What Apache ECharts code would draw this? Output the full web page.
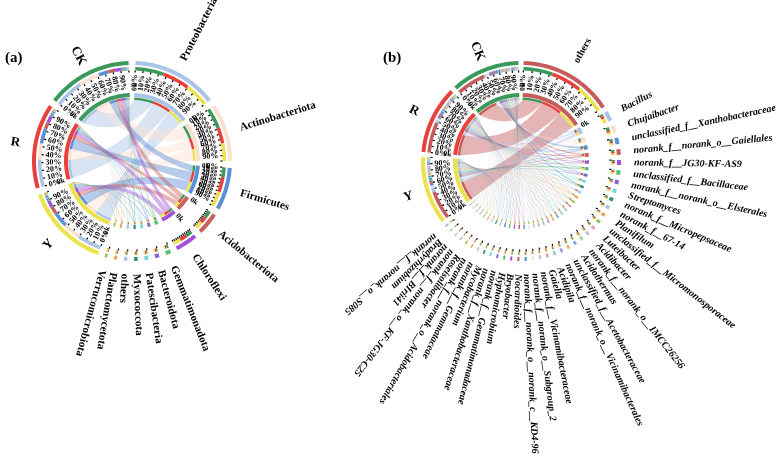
<!DOCTYPE html>
<html><head><meta charset="utf-8">
<script src="https://cdn.jsdelivr.net/npm/echarts@6/dist/echarts.min.js"></script>
<style>html,body{margin:0;padding:0;background:#fff}#c{width:780px;height:456px}</style>
</head><body><div id="c"></div>
<script>
// ---------------- data ----------------
const samples = ['CK', 'R', 'Y'];
const sampleColors = ['#3b9a5b', '#e8413c', '#ece24b'];
const pctLabels = ['0%', '10%', '20%', '30%', '40%', '50%', '60%', '70%', '80%', '90%'];
const countLabel = '0k';

// panel (a): phyla, relative abundance (%) per sample
const phylaA = ['Proteobacteria', 'Actinobacteriota', 'Firmicutes', 'Acidobacteriota', 'Chloroflexi',
  'Gemmatimonadota', 'Bacteroidota', 'Patescibacteria', 'Myxococcota', 'others', 'Planctomycetota', 'Verrucomicrobiota'];
const phylaCK = [36, 26, 12, 9, 8, 2.5, 1.5, 1.2, 1.2, 1.2, 0.8, 0.6];
const phylaR  = [34, 20, 19, 8, 9, 1.8, 1.8, 1.6, 1.4, 1.3, 1.2, 0.9];
const phylaY  = [30, 22, 19, 9, 9, 1.7, 1.7, 1.7, 1.4, 1.5, 1.5, 1.5];
const phylaColors = ['#a9c4e6', '#fbe0d0', '#5b8fd6', '#c9605a', '#a352d8', '#4fc27a', '#7a68d6', '#6fd9d9', '#2f8c82', '#a8c4e8', '#f0a05a', '#9cc45c'];

// panel (b): genera, relative abundance (%) per sample
const generaB = ['others', 'Bacillus', 'Chujaibacter', 'unclassified_f__Xanthobacteraceae', 'norank_f__norank_o__Gaiellales',
  'norank_f__JG30-KF-AS9', 'unclassified_f__Bacillaceae', 'norank_f__norank_o__Elsterales', 'Streptomyces',
  'norank_f__Micropepsaceae', 'norank_f__67-14', 'Planifilum', 'unclassified_f__Micromonosporaceae', 'Luteibacter',
  'Acidibacter', 'norank_f__norank_o__IMCC26256', 'Acidothermus', 'unclassified_f__Acetobacteraceae',
  'norank_f__norank_o__Vicinamibacterales', 'Acidipila', 'Gaiella', 'norank_f__Vicinamibacteraceae',
  'norank_f__norank_o__Subgroup_2', 'norank_f__norank_o__norank_c__KD4-96', 'Nocardioides', 'Bryobacter',
  'Hyphomicrobium', 'norank_f__Gemmatimonadaceae', 'norank_f__Xanthobacteraceae', 'Mycobacterium',
  'norank_f__Gemmataceae', 'norank_f__norank_o__Acidobacteriales', 'Roseisolibacter',
  'norank_f__norank_o__KF-JG30-C25', 'norank_f__BIrii41', 'Bradyrhizobium', 'norank_f__norank_o__S085'];
const generaCK = [44, 3, 5, 4, 3, 2.5, 1.5, 2.5, 1.5, 2, 1.5, 1, 1.5, 2, 1.5, 1.2, 1.4, 1.5, 1, 1.3, 1,
  0.9, 1.2, 0.8, 0.9, 1, 0.9, 0.8, 0.9, 0.7, 0.7, 0.9, 0.6, 0.7, 0.6, 0.7, 0.6];
const generaR  = [46, 4, 3, 2.5, 2.5, 2.5, 2, 2, 2, 1.5, 2, 1.5, 1.5, 1.2, 1.3, 1.4, 1.2, 1, 1.3, 1, 1.1,
  1.1, 0.9, 1.1, 1, 0.9, 0.9, 0.9, 0.8, 0.8, 0.8, 0.7, 0.7, 0.7, 0.7, 0.6, 0.6];
const generaY  = [43, 7, 3, 2.5, 2.5, 2, 3, 1.5, 2, 1.5, 1.5, 2, 1.5, 1, 1.2, 1.4, 1.2, 1.1, 1.2, 1, 1.1,
  1.1, 0.9, 1.1, 1, 0.9, 0.9, 0.9, 0.8, 0.9, 0.8, 0.6, 0.8, 0.6, 0.7, 0.6, 0.6];
const othersColorB = '#c65b5b';
const paletteB = ['#a9c4e6', '#fbe0d0', '#5b8fd6', '#cc5a5a', '#a352d8', '#4fc27a', '#7a68d6', '#6fd9d9', '#2f8c82',
  '#a8c4e8', '#f0a05a', '#9cc45c', '#d9a0c8', '#bdbdbd', '#9fd6a0', '#7fa8e0', '#e4b07a', '#b58ed9', '#8fc9c0', '#e39a9a'];

// ---------------- rendering ----------------
const SERIF = 'Liberation Serif';
const R = { outer: [96, 100], pct: [90.5, 94], tick: [88.5, 90.5], pctText: 86.5, inner: [64, 68], strip: [61, 63.5], chord: 61, count: 70, name: 113, sample: 118 };

function arcPts(api, r, a0, a1) {
  const n = Math.max(2, Math.ceil(Math.abs(a1 - a0) / 0.7) + 1);
  const out = [];
  for (let q = 0; q < n; q++) out.push(api.coord([r, a0 + (a1 - a0) * q / (n - 1)]));
  return out;
}

function buildPanel(pi, taxa, vals, taxColors, opt) {
  const nT = taxa.length, nS = samples.length;
  const taxTot = taxa.map((_, i) => vals.reduce((s, arr) => s + arr[i], 0));
  const smpTot = vals.map(arr => arr.reduce((a, b) => a + b, 0));
  const sectors = [];
  taxa.forEach((t, i) => sectors.push({ name: t, kind: 't', i, value: taxTot[i], color: taxColors[i] }));
  for (let j = nS - 1; j >= 0; j--) sectors.push({ name: samples[j], kind: 's', i: j, value: smpTot[j], color: sampleColors[j] });
  const sum = sectors.reduce((a, s) => a + s.value, 0);
  const k = (360 - sectors.length * opt.gap) / sum;
  let a = opt.gap / 2;
  sectors.forEach(s => { s.a0 = a; s.a1 = a + s.value * k; a = s.a1 + opt.gap; });

  const arcs = [], ticks = [], texts = [], chords = [];
  const linkT = {}, linkS = {};
  sectors.forEach(s => {
    arcs.push({ a0: s.a0, a1: s.a1, r0: R.outer[0], r1: R.outer[1], color: s.color });
    arcs.push({ a0: s.a0, a1: s.a1, r0: R.inner[0], r1: R.inner[1], color: s.color });
  });
  sectors.forEach(s => {
    let c = s.a0;
    if (s.kind === 't') {
      for (let j = 0; j < nS; j++) {
        const w = vals[j][s.i] * k;
        arcs.push({ a0: c, a1: c + w, r0: R.pct[0], r1: R.pct[1], color: sampleColors[j] });
        arcs.push({ a0: c, a1: c + w, r0: R.strip[0], r1: R.strip[1], color: sampleColors[j] });
        linkT[s.i + '_' + j] = [c, c + w]; c += w;
      }
    } else {
      const j = s.i;
      for (let i = 0; i < nT; i++) {
        const w = vals[j][i] * k;
        arcs.push({ a0: c, a1: c + w, r0: R.pct[0], r1: R.pct[1], color: taxColors[i] });
        arcs.push({ a0: c, a1: c + w, r0: R.strip[0], r1: R.strip[1], color: taxColors[i] });
        linkS[i + '_' + j] = [c, c + w]; c += w;
      }
    }
  });
  for (let i = 0; i < nT; i++) for (let j = 0; j < nS; j++) {
    const t = linkT[i + '_' + j], sm = linkS[i + '_' + j];
    chords.push({ v: [t[0], t[1], sm[0], sm[1]], color: taxColors[i] });
  }
  sectors.forEach(s => {
    const span = s.a1 - s.a0;
    const steps = span >= 8 ? 10 : 0;
    for (let q = 0; q <= steps; q++) ticks.push({ a: s.a0 + span * q / 10 });
    if (span >= 15) {
      pctLabels.forEach((lab, q) => texts.push({ a: s.a0 + span * q / 10, r: R.pctText, text: lab, mode: 'nice', dir: 'in', size: 8, style: 'normal' }));
    }
    if (span >= opt.countMin) texts.push({ a: s.a0, r: R.count, text: countLabel, mode: 'nice', dir: 'out', size: 7.5, style: 'normal' });
    const mid = (s.a0 + s.a1) / 2;
    if (s.kind === 's') texts.push({ a: mid, r: R.sample, text: s.name, mode: 'nice', dir: 'center', size: 13, style: 'normal' });
    else texts.push({ a: mid, r: R.name, text: s.name, mode: 'out', dir: 'out', size: opt.nameSize, style: (opt.italic && s.name !== 'others') ? 'italic' : 'normal' });
  });

  const series = [];
  series.push({
    type: 'custom', coordinateSystem: 'polar', polarIndex: pi, silent: true, z: 1,
    data: chords.map(d => d.v),
    renderItem: (params, api) => {
      const d = chords[params.dataIndex];
      const C = api.coord([0, 0]);
      const A = arcPts(api, R.chord, api.value(0), api.value(1));
      const B = arcPts(api, R.chord, api.value(2), api.value(3));
      const rp = Math.hypot(A[0][0] - C[0], A[0][1] - C[1]);
      const ctrl = (P, Q) => {
        const M = [(P[0] + Q[0]) / 2, (P[1] + Q[1]) / 2];
        let s = Math.hypot(P[0] - Q[0], P[1] - Q[1]) / (2 * rp); s = Math.min(1, s);
        const f = Math.sqrt((1 - s) / (1 + s));
        return [C[0] + (M[0] - C[0]) * f, C[1] + (M[1] - C[1]) * f];
      };
      let p = 'M' + A[0][0] + ' ' + A[0][1];
      for (let q = 1; q < A.length; q++) p += 'L' + A[q][0] + ' ' + A[q][1];
      const c1 = ctrl(A[A.length - 1], B[0]);
      p += 'Q' + c1[0] + ' ' + c1[1] + ' ' + B[0][0] + ' ' + B[0][1];
      for (let q = 1; q < B.length; q++) p += 'L' + B[q][0] + ' ' + B[q][1];
      const c2 = ctrl(B[B.length - 1], A[0]);
      p += 'Q' + c2[0] + ' ' + c2[1] + ' ' + A[0][0] + ' ' + A[0][1] + 'Z';
      return { type: 'path', shape: { pathData: p }, style: { fill: d.color, opacity: opt.chordOpacity, stroke: null } };
    }
  });
  series.push({
    type: 'custom', coordinateSystem: 'polar', polarIndex: pi, silent: true, z: 2,
    data: arcs.map(d => [d.a0, d.a1, d.r0, d.r1]),
    renderItem: (params, api) => {
      const d = arcs[params.dataIndex];
      if (api.value(1) - api.value(0) < 0.02) return null;
      const pts = arcPts(api, api.value(3), api.value(0), api.value(1)).concat(arcPts(api, api.value(2), api.value(1), api.value(0)));
      return { type: 'polygon', shape: { points: pts }, style: { fill: d.color, stroke: null } };
    }
  });
  series.push({
    type: 'custom', coordinateSystem: 'polar', polarIndex: pi, silent: true, z: 3,
    data: ticks.map(d => [d.a]),
    renderItem: (params, api) => {
      const p0 = api.coord([R.tick[0], api.value(0)]), p1 = api.coord([R.tick[1], api.value(0)]);
      return { type: 'line', shape: { x1: p0[0], y1: p0[1], x2: p1[0], y2: p1[1] }, style: { stroke: '#000', lineWidth: 1.2 } };
    }
  });
  series.push({
    type: 'custom', coordinateSystem: 'polar', polarIndex: pi, silent: true, z: 4,
    data: texts.map(d => [d.a, d.r]),
    renderItem: (params, api) => {
      const d = texts[params.dataIndex];
      const C = api.coord([0, api.value(0)]);
      const P = api.coord([api.value(1), api.value(0)]);
      const dx = P[0] - C[0], dy = P[1] - C[1];
      let phi = Math.atan2(-dy, dx), outward = true;
      if (d.mode === 'nice' && dx < -0.01) { phi += Math.PI; outward = false; }
      let align = 'center';
      if (d.dir === 'out') align = outward ? 'left' : 'right';
      else if (d.dir === 'in') align = outward ? 'right' : 'left';
      return { type: 'text', x: P[0], y: P[1], rotation: phi,
        style: { text: d.text, fill: '#000', fontSize: d.size, fontWeight: 'bold', fontStyle: d.style, fontFamily: SERIF, align: align, verticalAlign: 'middle' } };
    }
  });
  return series;
}

const colorsB = generaB.map((g, i) => i === 0 ? othersColorB : paletteB[(i - 1) % paletteB.length]);
const seriesA = buildPanel(0, phylaA, [phylaCK, phylaR, phylaY], phylaColors, { gap: 4, countMin: 8, nameSize: 11, italic: false, chordOpacity: 0.45 });
const seriesB = buildPanel(1, generaB, [generaCK, generaR, generaY], colorsB, { gap: 3, countMin: 5, nameSize: 10, italic: true, chordOpacity: 0.45 });

const chart = echarts.init(document.getElementById('c'), null, { renderer: 'canvas' });
const axisOff = { show: false };
chart.setOption({
  animation: false,
  backgroundColor: '#fff',
  title: [
    { text: '(a)', left: 0, top: 46, textStyle: { fontFamily: SERIF, fontWeight: 'bold', fontSize: 15, color: '#000' } },
    { text: '(b)', left: 378, top: 46, textStyle: { fontFamily: SERIF, fontWeight: 'bold', fontSize: 15, color: '#000' } }
  ],
  polar: [{ center: [132, 161], radius: 130 }, { center: [521, 161], radius: 130 }],
  angleAxis: [
    Object.assign({ polarIndex: 0, type: 'value', min: 0, max: 360, startAngle: 90, clockwise: true }, axisOff),
    Object.assign({ polarIndex: 1, type: 'value', min: 0, max: 360, startAngle: 90, clockwise: true }, axisOff)
  ],
  radiusAxis: [
    Object.assign({ polarIndex: 0, type: 'value', min: 0, max: 130 }, axisOff),
    Object.assign({ polarIndex: 1, type: 'value', min: 0, max: 130 }, axisOff)
  ],
  series: seriesA.concat(seriesB)
});
</script></body></html>
